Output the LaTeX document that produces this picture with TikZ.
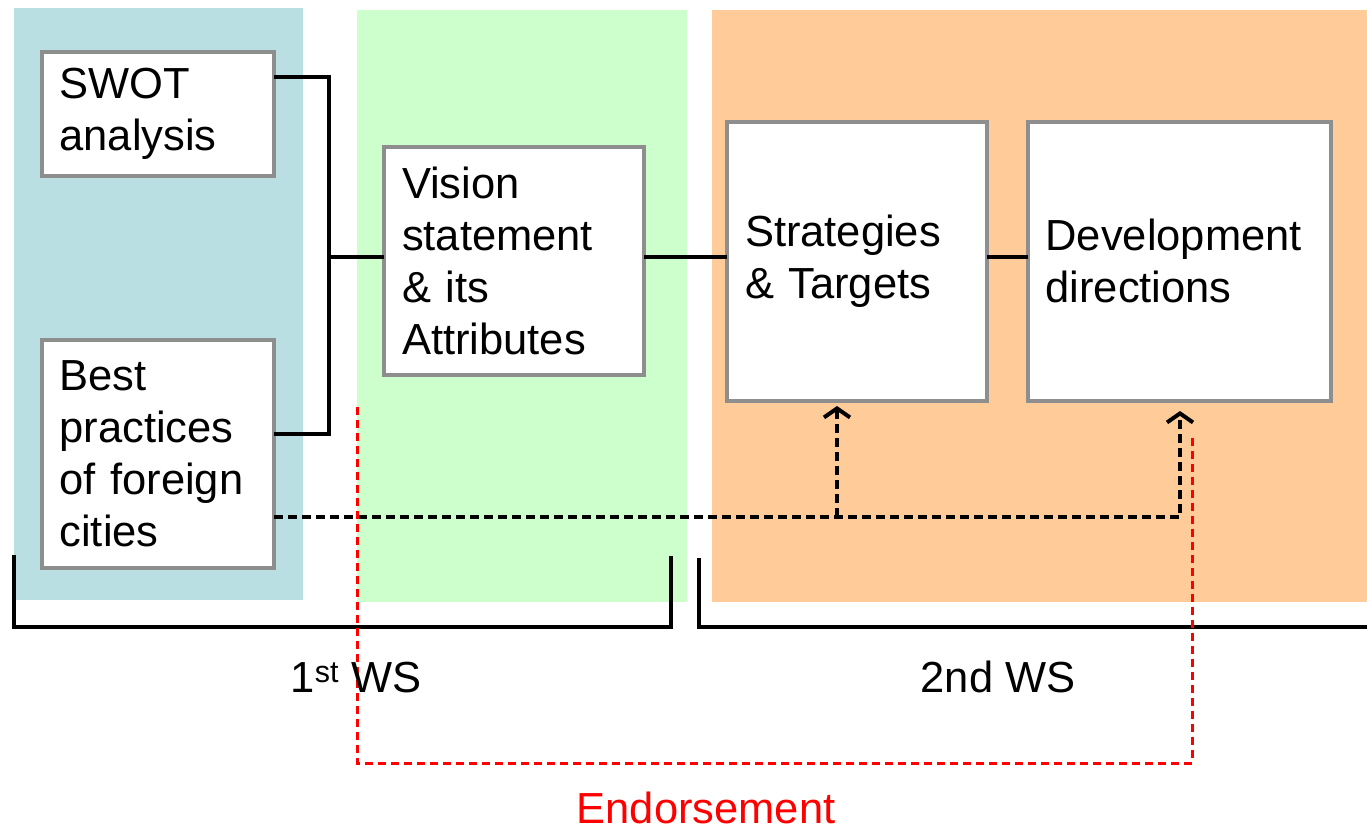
\documentclass[tikz,border=0pt]{standalone}
\usepackage{fontspec}
\setmainfont{Liberation Sans}
\usetikzlibrary{arrows.meta}
\definecolor{pblue}{HTML}{BADFE3}
\definecolor{pgreen}{HTML}{CCFFCC}
\definecolor{porange}{HTML}{FFCC99}
\definecolor{bordergray}{HTML}{8E8E8E}
\definecolor{endred}{HTML}{FF0000}
\tikzset{
  box/.style={draw=bordergray, line width=4pt, fill=white, rectangle, align=left,
    inner xsep=18pt, inner ysep=0pt, outer sep=0pt, anchor=north west,
    font=\fontsize{43.5}{52}\selectfont},
  conn/.style={line width=3.5pt, black},
  dconn/.style={line width=3.5pt, black, dash pattern=on 9pt off 5pt},
  rconn/.style={line width=3pt, endred, dash pattern=on 8pt off 5pt},
  arr/.style={-{Straight Barb[length=9pt,width=26pt,line width=4pt]}},
  lbl/.style={font=\fontsize{43.5}{52}\selectfont, anchor=base, inner sep=0pt},
}
\begin{document}
\begin{tikzpicture}[x=1pt,y=-1pt]
\useasboundingbox (0,0) rectangle (1367,830);
% panels
\fill[pblue] (14,8) rectangle (303,600);
\fill[pgreen] (357,10) rectangle (687,602);
\fill[porange] (712,10) rectangle (1367,602);
% boxes
\node[box, text width=196.5pt, minimum height=124.5pt] (swot) at (41.5,51.5) {SWOT\\analysis};
\node[box, text width=196.5pt, minimum height=228pt] (best) at (41.5,340) {Best\\practices\\of foreign\\cities};
\node[box, text width=224pt, minimum height=228pt] (vision) at (384,147) {Vision\\statement\\\& its\\Attributes};
\node[box, text width=224pt, minimum height=279.5pt] (strat) at (727,121.5) {Strategies\\\& Targets};
\node[box, text width=267.5pt, minimum height=279.5pt] (dev) at (1027.5,121.5) {Development\\directions};
% solid connectors
\coordinate (j) at (329,257);
\draw[conn] (swot.east |- 0,77) -| (j) |- (best.east |- 0,434);
\draw[conn] (j) -- (vision.west |- j);
\draw[conn] (vision.east |- j) -- (strat.west |- j);
\draw[conn] (strat.east |- j) -- (dev.west |- j);
% dashed black
\coordinate (ds) at (best.east |- 0,517);
\coordinate (db) at (837,517);
\coordinate (ta) at (837,406);
\coordinate (tb) at (1180,411);
\draw[dconn, arr] (ds) -| (tb);
\draw[dconn, arr] (db) -- (ta);
% brackets
\coordinate (b1) at (14,555);
\coordinate (b2) at (671,556);
\coordinate (b3) at (699,558);
\coordinate (b4) at (1367,627);
\draw[conn] (b1) |- (b2 |- 0,627) -- (b2);
\draw[conn] (b3) |- (b4);
% red dashed
\coordinate (r1) at (357,407);
\coordinate (r2) at (1192,437);
\draw[rconn] (r1) -- (357,763) -| (r2);
% labels
\node[lbl] (ws1) at (356,692) {1\textsuperscript{st} WS};
\node[lbl] (ws2) at (998,692) {2nd WS};
\node[lbl, text=endred] (endo) at (706,823) {Endorsement};
\end{tikzpicture}
\end{document}
